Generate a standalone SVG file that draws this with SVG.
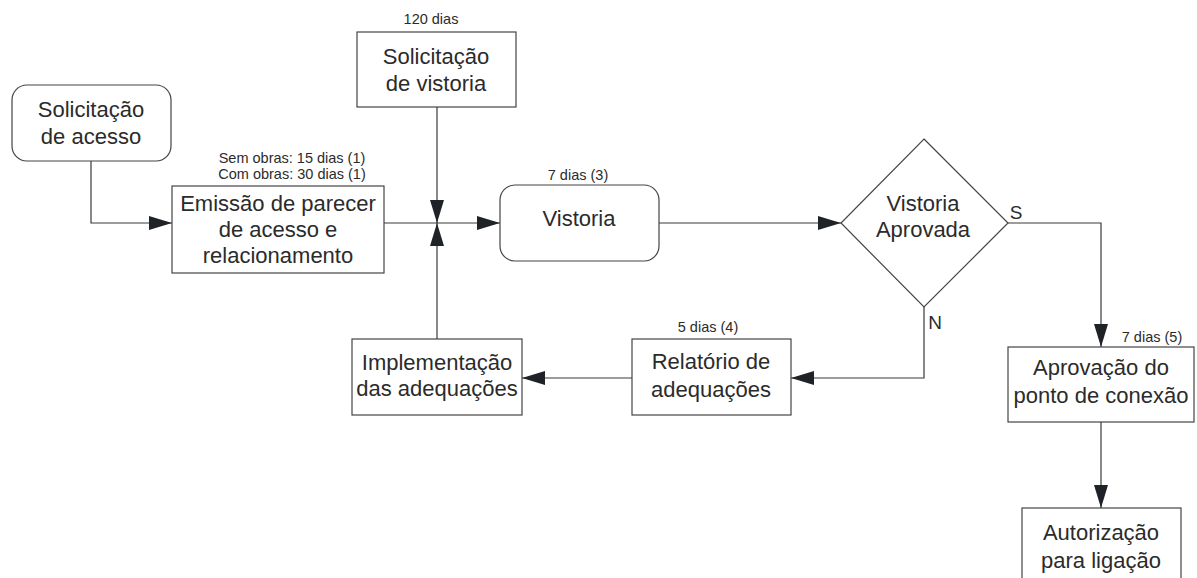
<svg xmlns="http://www.w3.org/2000/svg" width="1197" height="578" viewBox="0 0 1197 578">
<defs>
<style>
.box{fill:#ffffff;stroke:#444444;stroke-width:1.2}
.t{font-family:"Liberation Sans",Arial,sans-serif;font-size:22px;fill:#2b2b2b;text-anchor:middle}
.s{font-family:"Liberation Sans",Arial,sans-serif;font-size:14.5px;fill:#2b2b2b;text-anchor:middle}
.l{font-family:"Liberation Sans",Arial,sans-serif;font-size:19px;fill:#2b2b2b;text-anchor:middle}
.c{fill:none;stroke:#3a3a3a;stroke-width:1.2}
</style>
<marker id="arr" markerUnits="userSpaceOnUse" markerWidth="24" markerHeight="16" refX="23" refY="7" orient="auto">
<path d="M0,0 L23,7 L0,14 Z" fill="#1f2328"/>
</marker>
</defs>
<rect width="1197" height="578" fill="#ffffff"/>
<g id="connectors">
<path class="c" d="M91,161 V223 H172" marker-end="url(#arr)"/>
<path class="c" d="M384,223 H500" marker-end="url(#arr)"/>
<path class="c" d="M437,107 V223" marker-end="url(#arr)"/>
<path class="c" d="M437,339 V223" marker-end="url(#arr)"/>
<path class="c" d="M659,223 H841" marker-end="url(#arr)"/>
<path class="c" d="M1008,223 H1101 V347" marker-end="url(#arr)"/>
<path class="c" d="M924,307 V378 H791" marker-end="url(#arr)"/>
<path class="c" d="M632,378 H522" marker-end="url(#arr)"/>
<path class="c" d="M1101,422 V508" marker-end="url(#arr)"/>
<text class="l" x="1016" y="219">S</text>
<text class="l" x="935" y="329">N</text>
</g>
<g id="solicitacao-acesso">
<rect class="box" x="12" y="85" width="159" height="76" rx="15"/>
<text class="t" x="91" y="117">Solicitação</text>
<text class="t" x="91" y="144">de acesso</text>
</g>
<g id="emissao-parecer">
<text class="s" x="292" y="163">Sem obras: 15 dias (1)</text>
<text class="s" x="292" y="179">Com obras: 30 dias (1)</text>
<rect class="box" x="172" y="186" width="212" height="87"/>
<text class="t" x="278" y="211">Emissão de parecer</text>
<text class="t" x="278" y="237">de acesso e</text>
<text class="t" x="278" y="263">relacionamento</text>
</g>
<g id="solicitacao-vistoria">
<text class="s" x="431" y="24">120 dias</text>
<rect class="box" x="357" y="32" width="159" height="75"/>
<text class="t" x="436" y="64">Solicitação</text>
<text class="t" x="436" y="91">de vistoria</text>
</g>
<g id="vistoria">
<text class="s" x="578" y="180">7 dias (3)</text>
<rect class="box" x="500" y="185" width="159" height="76" rx="15"/>
<text class="t" x="579" y="226">Vistoria</text>
</g>
<g id="vistoria-aprovada">
<path class="box" d="M924,139 L1008,223 L924,307 L841,223 Z"/>
<text class="t" x="923" y="211">Vistoria</text>
<text class="t" x="923" y="237">Aprovada</text>
</g>
<g id="relatorio-adequacoes">
<text class="s" x="708" y="332">5 dias (4)</text>
<rect class="box" x="632" y="339" width="159" height="76"/>
<text class="t" x="711" y="369">Relatório de</text>
<text class="t" x="711" y="397">adequações</text>
</g>
<g id="implementacao-adequacoes">
<rect class="box" x="352" y="339" width="170" height="76"/>
<text class="t" x="437" y="370">Implementação</text>
<text class="t" x="437" y="396">das adequações</text>
</g>
<g id="aprovacao-ponto">
<text class="s" x="1152" y="342">7 dias (5)</text>
<rect class="box" x="1008" y="347" width="186" height="75"/>
<text class="t" x="1101" y="375">Aprovação do</text>
<text class="t" x="1101" y="403">ponto de conexão</text>
</g>
<g id="autorizacao-ligacao">
<rect class="box" x="1022" y="508" width="159" height="80"/>
<text class="t" x="1101" y="540">Autorização</text>
<text class="t" x="1101" y="568">para ligação</text>
</g>
</svg>
